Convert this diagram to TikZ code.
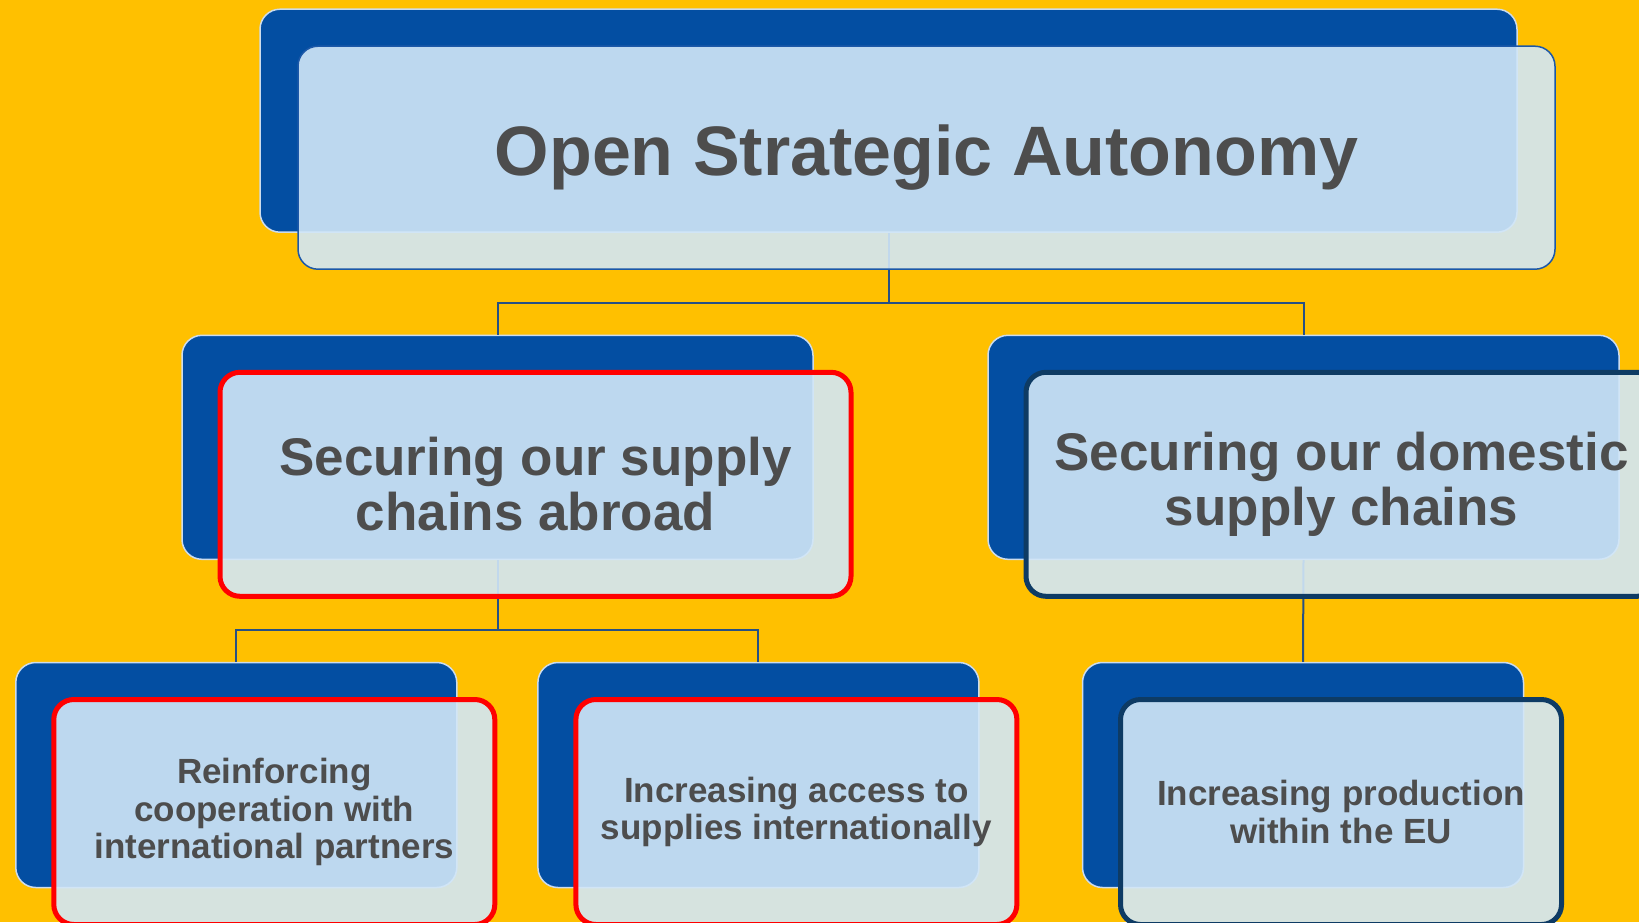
\documentclass[tikz,border=0pt]{standalone}
\usepackage{fontspec}
\setmainfont{Liberation Sans}

\definecolor{bgyellow}{RGB}{255,192,0}
\definecolor{backblue}{RGB}{3,78,162}
\definecolor{paleblue}{RGB}{210,231,248}
\definecolor{navyedge}{RGB}{14,59,100}
\definecolor{textgrey}{RGB}{77,77,77}
\definecolor{linkblue}{RGB}{38,80,132}
\definecolor{edgeblue}{RGB}{28,88,168}

\begin{document}
\begin{tikzpicture}[
    x=1pt, y=-1pt,
    backbox/.style={draw=white!80!backblue, line width=1.5pt, fill=backblue, rounded corners=20pt, inner sep=0pt},
    frontbox/.style={fill=paleblue, fill opacity=0.9, text opacity=1, text=textgrey, rounded corners=20pt, inner sep=0pt, align=center},
    sizeone/.style={minimum width=1257pt, minimum height=223pt},
    sizetwo/.style={minimum width=631pt, minimum height=224pt},
    sizethree/.style={minimum width=441pt, minimum height=225pt},
    redframe/.style={draw=red, line width=5pt},
    navyframe/.style={draw=navyedge, line width=5pt},
    link/.style={draw=linkblue, line width=2pt},
    titlefont/.style={font=\fontsize{70}{84}\selectfont\bfseries},
    midfont/.style={font=\fontsize{53}{55}\selectfont\bfseries},
    lowfont/.style={font=\fontsize{35}{37.6}\selectfont\bfseries}
]

% background
\fill[bgyellow] (0,0) rectangle (1639,922);
\useasboundingbox (0,0) rectangle (1639,922);

% back boxes
\node[backbox, sizeone] (topback) at (888.5,120.7) {};
\node[backbox, sizetwo] (abroadback) at (497.5,447.3) {};
\node[backbox, sizetwo] (domback) at (1303.5,447.3) {};
\node[backbox, sizethree] (coopback) at (236.3,775) {};
\node[backbox, sizethree] (accessback) at (758.4,775) {};
\node[backbox, sizethree] (prodback) at (1303,775) {};

% junctions
\coordinate (jtop) at (888.5,303);
\coordinate (jabroad) at (497.5,630);

% connectors
\draw[link] (topback.south) -- (jtop);
\draw[link] (abroadback.north) |- (jtop) -| (domback.north);
\draw[link] (abroadback.south) -- (jabroad);
\draw[link] (coopback.north) |- (jabroad) -| (accessback.north);
\draw[link] (domback.south) -- (prodback.north);

% front boxes
\node[frontbox, sizeone, draw=edgeblue, line width=1.5pt, titlefont] (top) at (926.5,157.7) {Open Strategic Autonomy};
\node[frontbox, sizetwo, redframe, midfont] (abroad) at (535.5,484.3) {Securing our supply\\chains abroad};
\node[frontbox, sizetwo, navyframe, midfont] (dom) at (1341.5,484.3) {Securing our domestic\\supply chains};
\node[frontbox, sizethree, redframe, lowfont] (coop) at (274.3,812) {Reinforcing\\cooperation with\\international partners};
\node[frontbox, sizethree, redframe, lowfont] (access) at (796.4,812) {Increasing access to\\supplies internationally};
\node[frontbox, sizethree, navyframe, lowfont] (prod) at (1341,812) {Increasing production\\within the EU};

\end{tikzpicture}
\end{document}
